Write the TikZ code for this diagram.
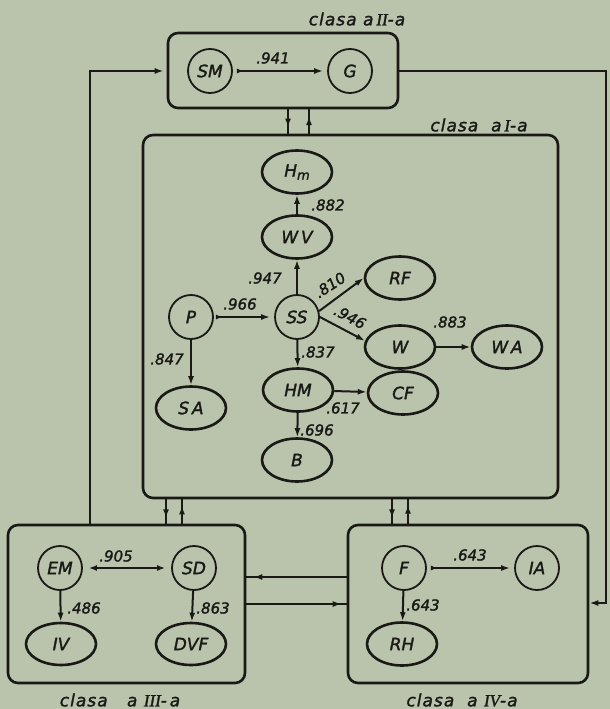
\documentclass[tikz,border=0pt]{standalone}
\usepackage{fontspec}
\setmainfont{DejaVu Sans}
\newfontfamily\lf{DejaVu Sans Oblique}[RawFeature={embolden=1.6}]
\newfontfamily\romanf{Liberation Serif Italic}[RawFeature={embolden=1.6}]
\usetikzlibrary{shapes.geometric,arrows.meta,decorations.markings}
\definecolor{paper}{RGB}{186,196,172}
\definecolor{ink}{RGB}{25,25,22}
\begin{document}
\begin{tikzpicture}[x=1pt,y=-1pt,
  every node/.style={text=ink},
  box/.style={draw=ink,line width=2.6pt,rounded corners=10pt,inner sep=0pt},
  circ/.style={draw=ink,circle,line width=1.8pt,minimum size=44pt,inner sep=0pt,font=\fontsize{17}{19}\lf},
  ell/.style={draw=ink,ellipse,line width=2.6pt,minimum width=70pt,minimum height=43pt,inner sep=0pt,font=\fontsize{17}{19}\lf},
  lab/.style={font=\fontsize{15}{17}\lf,inner sep=0pt},
  cls/.style={font=\fontsize{17}{19}\lf\addfontfeature{LetterSpace=6},inner sep=0pt},
  con/.style={draw=ink,line width=2pt,-{Latex[length=9pt,width=6pt]}},
  con2/.style={draw=ink,line width=2pt,{Latex[length=7pt,width=5pt,reversed]}-{Latex[length=9pt,width=6pt]},shorten <=4pt,shorten >=4pt},
  link/.style={draw=ink,line width=2pt},
  tip/.style={postaction={decorate},decoration={markings,mark=at position #1 with {\arrow{Latex[length=9pt,width=6pt]}}}},
]
\fill[paper] (0,0) rectangle (610,709);
\useasboundingbox (0,0) rectangle (610,709);

% class boxes
\node[box,minimum width=230pt,minimum height=75pt] (c2) at (283,70.5) {};
\node[box,minimum width=415pt,minimum height=363pt] (c1) at (350.5,316.5) {};
\node[box,minimum width=237pt,minimum height=158pt] (c3) at (126.5,604) {};
\node[box,minimum width=240pt,minimum height=158pt] (c4) at (468,604) {};

\node[cls] (t2) at (357,19) {clasa\ a\,{\romanf II}-a};
\node[cls] (t1) at (479,125) {clasa\ \ a\,{\romanf I}-a};
\node[cls] (t3) at (120,700) {clasa\ \ \ a\ {\romanf III}-\,a};
\node[cls] (t4) at (462,700) {clasa\ \ a\ {\romanf IV}-a};

% class II
\node[circ] (SM) at (210,71) {SM};
\node[circ] (G) at (350,71) {G};
% class I
\node[ell] (Hm) at (297,172) {H\raisebox{-3pt}{\fontsize{13}{13}\lf m}};
\node[ell] (WV) at (297,237) {W\,V};
\node[circ] (SS) at (297,317) {SS};
\node[circ] (P) at (191,317) {P};
\node[ell] (RF) at (400,278) {RF};
\node[ell] (W) at (400,347) {W};
\node[ell] (WA) at (507,347) {W\,A};
\node[ell] (SA) at (191,408) {S\,A};
\node[ell] (HM) at (298,390) {HM};
\node[ell] (CF) at (403,393) {CF};
\node[ell] (B) at (297,460) {B};
% class III
\node[circ] (EM) at (60,568) {EM};
\node[circ] (SD) at (194,568) {SD};
\node[ell,minimum height=42pt] (IV) at (61,644) {IV};
\node[ell,minimum height=42pt] (DVF) at (191,644) {DVF};
% class IV
\node[circ] (F) at (404,568) {F};
\node[circ] (IA) at (537,568) {IA};
\node[ell] (RH) at (402,644) {RH};

% arrows inside classes
\draw[con2] (SM) -- (G);
\draw[con] (WV) -- (Hm);
\draw[con] (SS) -- (WV);
\draw[con2,shorten <=2pt] (P) -- (SS);
\draw[con] (SS.15) -- (RF.west);
\draw[con] (SS.east) -- (W.170);
\draw[con] (W) -- (WA);
\draw[con] (P) -- (SA);
\draw[con] (SS) -- (HM);
\draw[con] (HM) -- (CF);
\draw[con] (HM) -- (B);
\draw[con,{Latex[length=8pt,width=6pt]}-{Latex[length=8pt,width=6pt]},shorten <=6pt,shorten >=6pt] (EM) -- (SD);
\draw[con] (EM) -- (IV);
\draw[con] (SD) -- (DVF);
\draw[con2] (F) -- (IA);
\draw[con] (F) -- (RH);

% labels
\node[lab] (l941) at (273,58) {.941};
\node[lab] (l882) at (328,205) {.882};
\node[lab] (l947) at (265,278) {.947};
\node[lab] (l966) at (240,304) {.966};
\node[lab,rotate=33] (l810) at (330,285) {.810};
\node[lab,rotate=-28] (l946) at (350,317) {.946};
\node[lab] (l883) at (450,322) {.883};
\node[lab] (l847) at (167,359) {.847};
\node[lab] (l837) at (318,352) {.837};
\node[lab] (l617) at (343,408) {.617};
\node[lab] (l696) at (317,430) {.696};
\node[lab] (l905) at (116,556) {.905};
\node[lab] (l486) at (84,608) {.486};
\node[lab] (l863) at (213,608) {.863};
\node[lab] (l643a) at (470,555) {.643};
\node[lab] (l643b) at (423,605) {.643};

% links between classes
\draw[link,tip=0.75] (288,0 |- c2.south) -- (288,0 |- c1.north);
\draw[link,tip=0.72] (309,0 |- c1.north) -- (309,0 |- c2.south);
\draw[link,tip=0.78] (166,0 |- c1.south) -- (166,0 |- c3.north);
\draw[link,tip=0.75] (182,0 |- c3.north) -- (182,0 |- c1.south);
\draw[link,tip=0.78] (392,0 |- c1.south) -- (392,0 |- c4.north);
\draw[link,tip=0.78] (408,0 |- c4.north) -- (408,0 |- c1.south);
\draw[link,tip=0.93] (c4.west |- 0,577) -- (c3.east |- 0,577);
\draw[link,tip=0.95] (c3.east |- 0,604) -- (c4.west |- 0,604);
\draw[link,-{Latex[length=9pt,width=6pt]},shorten >=3pt] (90,0 |- c3.north) -- (90,71) -- (c2.west |- 0,71);
\draw[link,-{Latex[length=9pt,width=6pt]}] (c2.east) -- (606,0 |- c2.east) -- (606,603) -- (c4.east |- 0,603);
\end{tikzpicture}
\end{document}
